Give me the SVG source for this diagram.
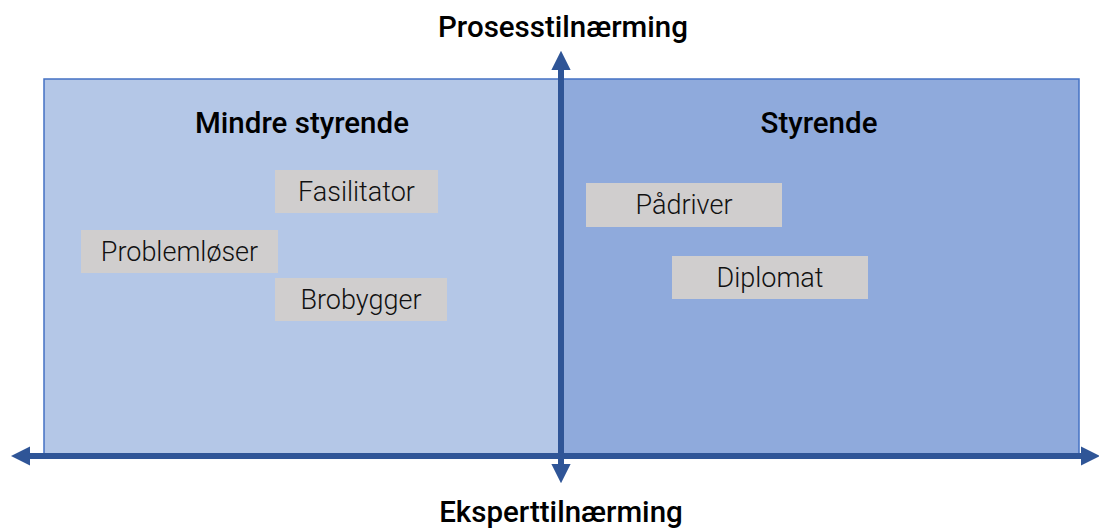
<svg xmlns="http://www.w3.org/2000/svg" width="1099" height="528" viewBox="0 0 1099 528">
<style>
.q{stroke:#4472c4;stroke-width:1.5}
.box{fill:#d0cece}
.lbl{font-family:Roboto,"Liberation Sans",sans-serif;font-size:27px;font-weight:300;fill:#111;text-anchor:middle}
.hd{font-family:Roboto,"Liberation Sans",sans-serif;font-size:29.5px;font-weight:500;fill:#000;text-anchor:middle}
.ax{stroke:#2f5597;stroke-width:6;fill:none}
</style>
<defs>
<marker id="ah" viewBox="0 0 10 10" refX="0" refY="5" markerWidth="3.2" markerHeight="3.2" orient="auto" markerUnits="strokeWidth">
<path d="M0,0 L10,5 L0,10 z" fill="#2f5597"/>
</marker>
</defs>
<rect width="1099" height="528" fill="#fff"/>
<g id="quadrant-left"><rect class="q" x="44" y="79" width="518" height="376" fill="#b4c7e7"/>
<text class="hd" x="302" y="133">Mindre styrende</text></g>
<g id="quadrant-right"><rect class="q" x="562" y="79" width="517" height="376" fill="#8faadc"/>
<text class="hd" x="819" y="133">Styrende</text></g>
<g id="connectors">
<line class="ax" x1="561" y1="455" x2="561" y2="70" marker-end="url(#ah)"/>
<line class="ax" x1="561" y1="456" x2="561" y2="464" marker-end="url(#ah)"/>
<line class="ax" x1="561" y1="456" x2="30" y2="456" marker-end="url(#ah)"/>
<line class="ax" x1="561" y1="456" x2="1081" y2="456" marker-end="url(#ah)"/>
</g>
<g id="fasilitator"><rect class="box" x="275" y="170" width="163" height="43"/><text class="lbl" x="356.5" y="201">Fasilitator</text></g>
<g id="problemloser"><rect class="box" x="81" y="230" width="197" height="43"/><text class="lbl" x="179.5" y="261">Problemløser</text></g>
<g id="brobygger"><rect class="box" x="275" y="278" width="172" height="43"/><text class="lbl" x="361" y="309">Brobygger</text></g>
<g id="padriver"><rect class="box" x="586" y="183" width="196" height="44"/><text class="lbl" x="684" y="214">Pådriver</text></g>
<g id="diplomat"><rect class="box" x="672" y="256" width="196" height="43"/><text class="lbl" x="770" y="287">Diplomat</text></g>
<g id="axis-labels">
<text class="hd" x="563" y="37">Prosesstilnærming</text>
<text class="hd" x="561" y="522">Eksperttilnærming</text>
</g>
</svg>
